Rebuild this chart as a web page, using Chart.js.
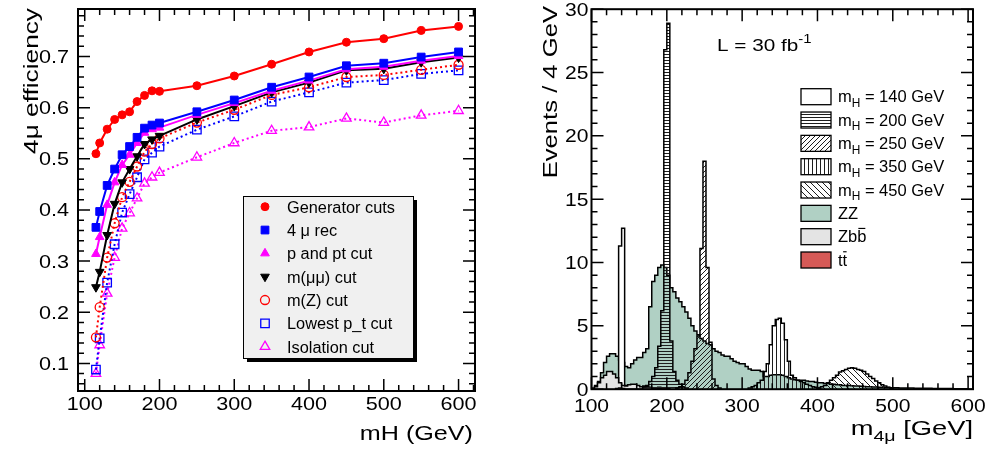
<!DOCTYPE html>
<html>
<head>
<meta charset="utf-8">
<script src="https://cdn.jsdelivr.net/npm/chart.js@4.4.1/dist/chart.umd.min.js"></script>
<style>
  html, body { margin: 0; padding: 0; background: #fff; }
  #wrap { position: relative; width: 992px; height: 450px; }
  canvas { position: absolute; top: 0; }
  #effChart { left: 0; }
  #massChart { left: 496px; }
</style>
</head>
<body>
<div id="wrap">
  <canvas id="effChart" width="496" height="450"></canvas>
  <canvas id="massChart" width="496" height="450"></canvas>
</div>
<script>
const FONT = '"Liberation Sans", Arial, Helvetica, sans-serif';

// ---- left panel: 4mu efficiency after each cut, vs Higgs mass ----
const higgsMass = [115, 120, 130, 140, 150, 160, 170, 180, 190, 200, 250, 300, 350, 400, 450, 500, 550, 600];
const genCuts  = [0.510, 0.531, 0.558, 0.577, 0.586, 0.592, 0.612, 0.624, 0.633, 0.632, 0.643, 0.662, 0.685, 0.709, 0.728, 0.735, 0.751, 0.759];
const rec4mu   = [0.366, 0.397, 0.448, 0.480, 0.508, 0.524, 0.542, 0.560, 0.566, 0.570, 0.592, 0.615, 0.640, 0.660, 0.682, 0.687, 0.699, 0.709];
const pptCut   = [0.314, 0.347, 0.410, 0.454, 0.488, 0.508, 0.531, 0.551, 0.558, 0.561, 0.586, 0.609, 0.633, 0.653, 0.675, 0.680, 0.692, 0.701];
const mmumuCut = [0.249, 0.279, 0.351, 0.412, 0.454, 0.480, 0.505, 0.529, 0.538, 0.545, 0.577, 0.603, 0.630, 0.649, 0.673, 0.676, 0.689, 0.698];
const mzCut    = [0.151, 0.210, 0.307, 0.374, 0.425, 0.455, 0.485, 0.514, 0.529, 0.540, 0.571, 0.596, 0.625, 0.640, 0.660, 0.664, 0.674, 0.684];
const lowPtCut = [0.088, 0.149, 0.258, 0.333, 0.395, 0.431, 0.464, 0.499, 0.512, 0.524, 0.557, 0.583, 0.612, 0.630, 0.649, 0.654, 0.666, 0.673];
const isoCut   = [0.080, 0.136, 0.237, 0.307, 0.364, 0.394, 0.423, 0.452, 0.464, 0.473, 0.503, 0.531, 0.555, 0.562, 0.579, 0.571, 0.585, 0.594];

const effTicks = [0.1, 0.2, 0.3, 0.4, 0.5, 0.6, 0.7];
const massTicks = [100, 200, 300, 400, 500, 600];
const eventTicks = [0, 5, 10, 15, 20, 25, 30];

// ---- right panel: m4mu histograms, 4 GeV bins, each list starts at its first bin edge ----
const binWidth = 4;
const h140Start = 128;
const h140 = [0.2, 0.3, 11.3, 12.7, 0.3, 0.1];
const h200Start = 168;
const h200 = [0.2, 0.3, 0.6, 1.0, 1.7, 3.4, 6.2, 26.8, 28.9, 3.8, 1.4, 0.7, 0.4, 0.2, 0.1];
const h250Start = 212;
const h250 = [0.1, 0.2, 0.4, 0.7, 1.3, 2.2, 3.2, 4.2, 11.1, 18.0, 9.6, 3.7, 0.8, 0.3, 0.1];
const h350Start = 308;
const h350 = [0.1, 0.2, 0.3, 0.5, 0.7, 1.4, 2.0, 3.5, 5.0, 5.5, 5.6, 5.2, 3.9, 2.2, 1.1, 0.9, 0.7, 0.6, 0.5, 0.4, 0.3, 0.2, 0.15, 0.1];
const h450Start = 400;
const h450 = [0.1, 0.2, 0.3, 0.5, 0.7, 0.9, 1.1, 1.35, 1.45, 1.55, 1.65, 1.7, 1.65, 1.55, 1.5, 1.4, 1.2, 1.0, 0.85, 0.65, 0.5, 0.35, 0.25, 0.15, 0.1];
const zzStart = 100;
const zzEvents = [
  0.1, 0.3, 0.6, 1.3, 2.1, 2.6, 2.8, 2.8, 2.6, 2.3,
  2.1, 1.8, 1.7, 2.0, 2.3, 2.5, 2.5, 2.9, 3.2, 6.5,
  8.5, 9.0, 9.6, 9.8, 9.6, 9.0, 8.0, 7.7, 7.2, 6.9,
  6.5, 6.1, 5.6, 5.0, 4.6, 4.3, 4.0, 3.8, 3.6, 3.5,
  3.2, 3.0, 2.9, 2.7, 2.6, 2.6, 2.4, 2.2, 2.1, 2.0,
  2.0, 1.8, 1.6, 1.5, 1.5, 1.5, 1.4, 1.0, 1.0, 1.1,
  1.15, 1.15, 1.15, 1.1, 1.0, 0.9, 0.8, 0.75, 0.7, 0.7,
  0.7, 0.65, 0.6, 0.6, 0.55, 0.5, 0.5, 0.45, 0.45, 0.4,
  0.4, 0.35, 0.35, 0.3, 0.3, 0.3, 0.28, 0.26, 0.25, 0.24,
  0.22, 0.2, 0.2, 0.18, 0.17, 0.16, 0.15, 0.14, 0.13, 0.12,
  0.12, 0.11, 0.1, 0.1, 0.1, 0.09, 0.09, 0.08, 0.08, 0.08,
  0.07, 0.07, 0.07, 0.06, 0.06, 0.06, 0.05, 0.05, 0.05, 0.05,
  0.04, 0.04, 0.04, 0.04, 0.03
];
const zbbStart = 104;
const zbbEvents = [0.2, 0.5, 0.9, 1.1, 1.4, 1.4, 1.2, 0.9, 0.5, 0.3, 0.25, 0.35, 0.4, 0.4, 0.3, 0.2, 0.25, 0.2, 0.15, 0.1, 0.1, 0.15, 0.1, 0.05];
const ttStart = 132;
const ttEvents = [0.05, 0.1, 0.05, 0, 0, 0, 0, 0, 0, 0, 0, 0, 0, 0, 0.05, 0.1, 0.1, 0.05];

// ---- text with ROOT-like latex bits: _{sub} ^{sup} #bar{x} #mu ----
function parseLatex(str) {
  str = str.replace(/#mu/g, 'μ');
  const parts = [];
  const re = /(_|\^|#bar)\{([^}]*)\}/g;
  let last = 0, m;
  while ((m = re.exec(str))) {
    if (m.index > last) parts.push({ t: str.slice(last, m.index), k: '' });
    parts.push({ t: m[2], k: m[1] });
    last = re.lastIndex;
  }
  if (last < str.length) parts.push({ t: str.slice(last), k: '' });
  return parts;
}

function drawLatex(ctx, str, x, y, size, sx, align, angle) {
  const parts = parseLatex(str);
  ctx.save();
  ctx.translate(x, y);
  if (angle) ctx.rotate(angle);
  ctx.scale(sx, 1);
  ctx.textAlign = 'left';
  ctx.textBaseline = 'alphabetic';
  const fontOf = p => ((p.k === '_' || p.k === '^') ? size * 0.72 : size) + 'px ' + FONT;
  let total = 0;
  parts.forEach(p => { ctx.font = fontOf(p); p.w = ctx.measureText(p.t).width; total += p.w; });
  let cx = align === 'right' ? -total : align === 'center' ? -total / 2 : 0;
  parts.forEach(p => {
    ctx.font = fontOf(p);
    const dy = p.k === '_' ? size * 0.28 : p.k === '^' ? -size * 0.44 : 0;
    ctx.fillText(p.t, cx, dy);
    if (p.k === '#bar') ctx.fillRect(cx + p.w * 0.12, -size * 0.88, p.w * 0.76, Math.max(1, size * 0.07));
    cx += p.w;
  });
  ctx.restore();
}

// ---- frame with inside ticks on all four sides, like ROOT ----
function rootFrame(cfg) {
  return {
    id: 'rootFrame',
    afterDatasetsDraw(chart) {
      const { ctx, chartArea: a } = chart;
      const x = chart.scales.x, y = chart.scales.y;
      const isMajor = (list, v) => list.some(t => Math.abs(t - v) < 1e-6);
      ctx.save();
      ctx.setLineDash([]);
      ctx.strokeStyle = '#000';
      ctx.lineWidth = 1.5;
      ctx.beginPath();
      for (let k = 0; ; k++) {
        const v = cfg.xFrom + k * cfg.xMinor;
        if (v > x.max + 1e-9) break;
        const px = x.getPixelForValue(v);
        const len = isMajor(cfg.xTicks, v) ? 12 : 6;
        ctx.moveTo(px, a.bottom); ctx.lineTo(px, a.bottom - len);
        ctx.moveTo(px, a.top); ctx.lineTo(px, a.top + len);
      }
      for (let k = 0; ; k++) {
        const v = +(cfg.yFrom + k * cfg.yMinor).toFixed(6);
        if (v > y.max + 1e-9) break;
        const py = y.getPixelForValue(v);
        const len = isMajor(cfg.yTicks, v) ? 12 : 6;
        ctx.moveTo(a.left, py); ctx.lineTo(a.left + len, py);
        ctx.moveTo(a.right, py); ctx.lineTo(a.right - len, py);
      }
      ctx.stroke();
      ctx.lineWidth = 2;
      ctx.strokeRect(a.left, a.top, a.right - a.left, a.bottom - a.top);

      ctx.fillStyle = '#000';
      cfg.xTicks.forEach(v => {
        drawLatex(ctx, String(v), x.getPixelForValue(v), cfg.xLabelY, cfg.tickSize, cfg.tickSx, 'center');
      });
      cfg.yTicks.forEach(v => {
        drawLatex(ctx, cfg.yFmt(v), cfg.yLabelX, y.getPixelForValue(v) + 6.4, cfg.tickSize, cfg.tickSx, 'right');
      });
      cfg.titles.forEach(t => drawLatex(ctx, t.text, t.x, t.y, t.size, t.sx, t.align, t.angle));
      ctx.restore();
    }
  };
}

const effLegend = {
  id: 'effLegend',
  afterDraw(chart) {
    const ctx = chart.ctx;
    const bx = 243, by = 196, bw = 170, bh = 162;
    ctx.save();
    ctx.setLineDash([]);
    ctx.fillStyle = '#000';
    ctx.fillRect(bx + 4, by + 4, bw, bh);
    ctx.fillStyle = '#f0f0f0';
    ctx.fillRect(bx, by, bw, bh);
    ctx.strokeStyle = '#000';
    ctx.lineWidth = 1;
    ctx.strokeRect(bx + 0.5, by + 0.5, bw, bh);
    chart.data.datasets.forEach((ds, i) => {
      const cy = 206.7 + i * 23.33;
      ctx.fillStyle = ds.pointBackgroundColor;
      ctx.strokeStyle = ds.pointBorderColor;
      ctx.lineWidth = ds.pointBorderWidth;
      Chart.helpers.drawPoint(ctx, {
        pointStyle: ds.pointStyle, radius: ds.pointRadius,
        rotation: ds.pointRotation, borderWidth: ds.pointBorderWidth
      }, 265, cy);
      ctx.fillStyle = '#000';
      drawLatex(ctx, ds.label, 287, cy + 6, 16, 1.02, 'left');
    });
    ctx.restore();
  }
};

const massLegend = {
  id: 'massLegend',
  afterDraw(chart) {
    const ctx = chart.ctx;
    ctx.save();
    chart.data.datasets.forEach((ds, i) => {
      const cy = 96.7 + i * 23.33;
      ctx.fillStyle = '#fff';
      ctx.fillRect(305, cy - 8, 30, 16);
      ctx.fillStyle = ds.backgroundColor;
      ctx.fillRect(305, cy - 8, 30, 16);
      ctx.strokeStyle = '#000';
      ctx.lineWidth = 1.3;
      ctx.strokeRect(305, cy - 8, 30, 16);
      ctx.fillStyle = '#000';
      drawLatex(ctx, ds.label, 342, cy + 5.7, 16.5, 1.0, 'left');
    });
    ctx.fillStyle = '#000';
    drawLatex(ctx, 'L = 30 fb^{-1}', 221, 50.7, 17, 1.22, 'left');
    ctx.restore();
  }
};

// ---- datasets ----
function toPoints(xs, ys) {
  return xs.map((x, i) => ({ x, y: ys[i] }));
}

function effSet(label, values, color, style, radius, filled, dotted, rotation) {
  return {
    label, data: toPoints(higgsMass, values),
    borderColor: color, borderWidth: 2, borderDash: dotted ? [2, 3] : [],
    pointStyle: style, pointRadius: radius, pointRotation: rotation || 0,
    pointBackgroundColor: filled ? color : 'rgba(0,0,0,0)',
    pointBorderColor: color, pointBorderWidth: filled ? 1 : 1.3,
    tension: 0, fill: false
  };
}

function histPoints(start, values) {
  const pts = [{ x: start, y: 0 }];
  values.forEach((v, i) => pts.push({ x: start + i * binWidth, y: v }));
  pts.push({ x: start + values.length * binWidth, y: 0 });
  return pts;
}

function histSet(label, start, values, fillStyle, order) {
  return {
    label, data: histPoints(start, values), order,
    stepped: true, fill: 'origin', backgroundColor: fillStyle,
    borderColor: '#000', borderWidth: 1.5, pointRadius: 0, tension: 0
  };
}

const massCtx = document.getElementById('massChart').getContext('2d');
function hatch(kind, step) {
  const c = document.createElement('canvas');
  c.width = step; c.height = step;
  const g = c.getContext('2d');
  g.strokeStyle = '#1e1e1e';
  g.lineWidth = 1;
  g.beginPath();
  if (kind === 'h') { g.moveTo(0, 0.5); g.lineTo(step, 0.5); }
  else if (kind === 'v') { g.moveTo(0.5, 0); g.lineTo(0.5, step); }
  else if (kind === '/') {
    g.moveTo(-1, step + 1); g.lineTo(step + 1, -1);
    g.moveTo(-1, 1); g.lineTo(1, -1);
    g.moveTo(step - 1, step + 1); g.lineTo(step + 1, step - 1);
  } else {
    g.moveTo(-1, -1); g.lineTo(step + 1, step + 1);
    g.moveTo(step - 1, -1); g.lineTo(step + 1, 1);
    g.moveTo(-1, step - 1); g.lineTo(1, step + 1);
  }
  g.stroke();
  return massCtx.createPattern(c, 'repeat');
}

new Chart(document.getElementById('effChart'), {
  type: 'line',
  data: {
    datasets: [
      effSet('Generator cuts', genCuts, '#ff0000', 'circle', 4, true, false),
      effSet('4 #mu rec', rec4mu, '#0000ff', 'rect', 5.5, true, false),
      effSet('p and pt cut', pptCut, '#ff00ff', 'triangle', 5, true, false),
      effSet('m(#mu#mu) cut', mmumuCut, '#000000', 'triangle', 5, true, false, 180),
      effSet('m(Z) cut', mzCut, '#ff0000', 'circle', 4.5, false, true),
      effSet('Lowest p_t cut', lowPtCut, '#0000ff', 'rect', 6, false, true),
      effSet('Isolation cut', isoCut, '#ff00ff', 'triangle', 5.5, false, true)
    ]
  },
  options: {
    responsive: false,
    animation: false,
    layout: { padding: { top: 9, right: 21, left: 0, bottom: 0 } },
    plugins: { legend: { display: false }, tooltip: { enabled: false } },
    scales: {
      x: {
        type: 'linear', min: 91, max: 622,
        ticks: { display: false }, grid: { display: false }, border: { display: false },
        afterFit: s => { s.height = 59; }
      },
      y: {
        type: 'linear', min: 0.046, max: 0.793,
        ticks: { display: false }, grid: { display: false }, border: { display: false },
        afterFit: s => { s.width = 78; }
      }
    }
  },
  plugins: [rootFrame({
    xTicks: massTicks, xFrom: 100, xMinor: 20,
    yTicks: effTicks, yFrom: 0.06, yMinor: 0.02,
    xLabelY: 409.5, yLabelX: 69, tickSize: 18, tickSx: 1.2,
    yFmt: v => v.toFixed(1),
    titles: [
      { text: 'mH (GeV)', x: 473, y: 440, size: 19.5, sx: 1.29, align: 'right' },
      { text: '4#mu efficiency', x: 38, y: 8, size: 21, sx: 1.25, align: 'right', angle: -Math.PI / 2 }
    ]
  }), effLegend]
});

new Chart(massCtx, {
  type: 'line',
  data: {
    datasets: [
      histSet('m_{H} = 140 GeV', h140Start, h140, '#ffffff', 9),
      histSet('m_{H} = 200 GeV', h200Start, h200, hatch('h', 3), 5),
      histSet('m_{H} = 250 GeV', h250Start, h250, hatch('/', 5), 4),
      histSet('m_{H} = 350 GeV', h350Start, h350, hatch('v', 4), 3),
      histSet('m_{H} = 450 GeV', h450Start, h450, hatch('\\', 6), 2),
      histSet('ZZ', zzStart, zzEvents, '#b0d0c4', 10),
      histSet('Zb#bar{b}', zbbStart, zbbEvents, '#e4e4e4', 8),
      histSet('t#bar{t}', ttStart, ttEvents, '#d65a57', 7)
    ]
  },
  options: {
    responsive: false,
    animation: false,
    layout: { padding: { top: 9.2, right: 19, left: 0, bottom: 0 } },
    plugins: { legend: { display: false }, tooltip: { enabled: false } },
    scales: {
      x: {
        type: 'linear', min: 100, max: 606.5,
        ticks: { display: false }, grid: { display: false }, border: { display: false },
        afterFit: s => { s.height = 60.8; }
      },
      y: {
        type: 'linear', min: 0, max: 30,
        ticks: { display: false }, grid: { display: false }, border: { display: false },
        afterFit: s => { s.width = 95.5; }
      }
    }
  },
  plugins: [rootFrame({
    xTicks: massTicks, xFrom: 100, xMinor: 20,
    yTicks: eventTicks, yFrom: 0, yMinor: 1,
    xLabelY: 412, yLabelX: 92.5, tickSize: 18, tickSx: 1.17,
    yFmt: v => String(v),
    titles: [
      { text: 'm_{4#mu} [GeV]', x: 477, y: 435, size: 21, sx: 1.3, align: 'right' },
      { text: 'Events / 4 GeV', x: 61, y: 6, size: 21, sx: 1.22, align: 'right', angle: -Math.PI / 2 }
    ]
  }), massLegend]
});
</script>
</body>
</html>
